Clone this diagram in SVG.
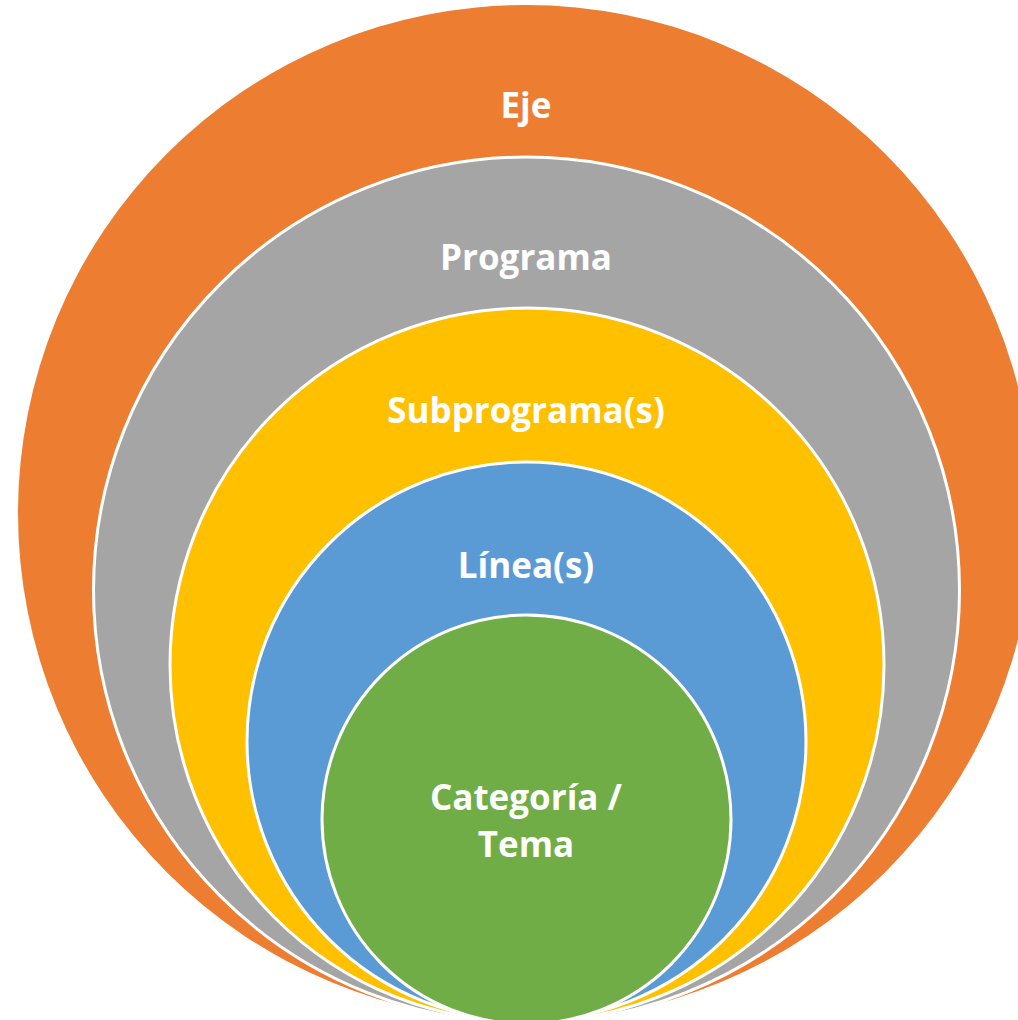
<svg xmlns="http://www.w3.org/2000/svg" width="1018" height="1020" viewBox="0 0 1018 1020">
<style>
.c{stroke:#ffffff;stroke-width:3}
.t{font-family:"Open Sans","Noto Sans","Liberation Sans",sans-serif;font-weight:bold;font-size:35px;fill:#ffffff;text-anchor:middle}
</style>
<rect width="1018" height="1020" fill="#ffffff"/>
<g id="eje"><circle cx="526" cy="513" r="508" fill="#ED7D31"/><text class="t" x="526" y="118">Eje</text></g>
<g id="programa"><circle class="c" cx="526.5" cy="590" r="433" fill="#A5A5A5"/><text class="t" x="526" y="270">Programa</text></g>
<g id="subprograma"><circle class="c" cx="527" cy="665" r="357" fill="#FFC000"/><text class="t" x="526" y="423">Subprograma(s)</text></g>
<g id="linea"><circle class="c" cx="526.5" cy="741.5" r="279.5" fill="#5B9BD5"/><text class="t" x="526" y="578">Línea(s)</text></g>
<g id="categoria"><circle class="c" cx="526.5" cy="819.5" r="204.5" fill="#70AD47"/><text class="t" x="526" y="810">Categoría /</text><text class="t" x="526" y="857">Tema</text></g>
<g id="connectors"/>
</svg>
